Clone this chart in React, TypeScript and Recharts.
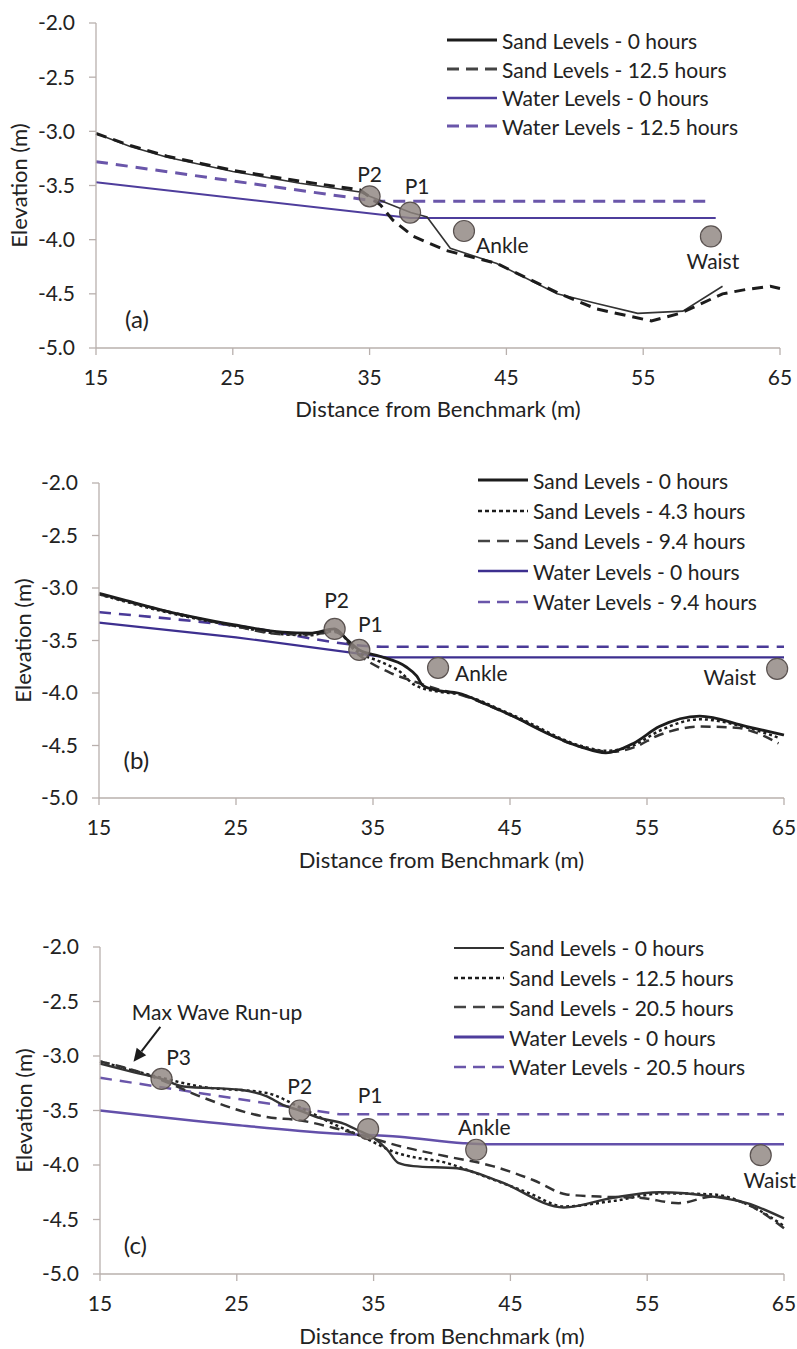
import React from "react"
import {
	ComposedChart,
	Line,
	Scatter,
	XAxis,
	YAxis,
	Legend,
	Label,
	ReferenceDot,
	ReferenceLine,
} from "recharts"

type Pt = [number, number]
type Marker = [string, number, number]

// ---- data ----
const xTicks = [15, 25, 35, 45, 55, 65]
const yTicks = [-5.0, -4.5, -4.0, -3.5, -3.0, -2.5, -2.0]

// (a)
const aSand0: Pt[] = [[15, -3.02], [17.5, -3.14], [20.2, -3.24], [25, -3.37], [29.9, -3.48], [34.3, -3.56], [35, -3.6], [38, -3.75], [39.2, -3.79], [40.9, -4.08], [44.3, -4.22], [48.7, -4.5], [51.6, -4.59], [54.6, -4.68], [57.9, -4.66], [60.8, -4.43]]
const aSand125: Pt[] = [[15, -3.02], [17.5, -3.13], [20.2, -3.23], [25, -3.36], [29.9, -3.46], [34.3, -3.54], [35.8, -3.68], [36.7, -3.82], [38.2, -3.97], [40.6, -4.1], [44.3, -4.22], [48.9, -4.5], [51.6, -4.64], [55.6, -4.75], [57.7, -4.68], [60.8, -4.5], [62.5, -4.46], [64.3, -4.43], [65, -4.45]]
const aWater0: Pt[] = [[15, -3.47], [38, -3.8], [60.3, -3.8]]
const aWater125: Pt[] = [[15, -3.28], [35.5, -3.645], [60, -3.645]]
const aMarkers: Marker[] = [["P2", 35.0, -3.6], ["P1", 37.96, -3.75], ["Ankle", 41.9, -3.92], ["Waist", 59.95, -3.97]]

// (b)
const bSand0: Pt[] = [[15, -3.05], [17, -3.12], [19.9, -3.22], [22, -3.28], [24.8, -3.35], [28.4, -3.42], [30.4, -3.43], [32.2, -3.39], [33.1, -3.49], [34, -3.59], [35.5, -3.65], [37.4, -3.75], [38.2, -3.84], [38.65, -3.93], [39.9, -3.98], [41.2, -4.0], [43.3, -4.11], [45.2, -4.22], [47.65, -4.38], [50.1, -4.51], [52, -4.57], [54, -4.48], [55.9, -4.32], [58.85, -4.22], [62.3, -4.32], [65, -4.4]]
const bSand43: Pt[] = [[15, -3.06], [19.9, -3.23], [24.8, -3.36], [28.4, -3.44], [30.4, -3.45], [32.2, -3.41], [34, -3.62], [35.5, -3.7], [37, -3.8], [38, -3.92], [39.9, -3.99], [41.2, -4.01], [45.2, -4.21], [50.1, -4.5], [52, -4.55], [54, -4.5], [55.9, -4.36], [58.85, -4.25], [62.3, -4.33], [64.7, -4.43]]
const bSand94: Pt[] = [[15, -3.06], [19.9, -3.22], [24.8, -3.36], [28.4, -3.44], [30.4, -3.44], [32.2, -3.42], [34, -3.64], [36.3, -3.81], [38, -3.89], [39.9, -3.97], [41.2, -4.01], [45.2, -4.22], [50.1, -4.51], [52.5, -4.56], [54, -4.52], [55.9, -4.4], [58.85, -4.32], [61.5, -4.33], [63, -4.38], [64.6, -4.48]]
const bWater0: Pt[] = [[15, -3.33], [25, -3.47], [36, -3.66], [65, -3.66]]
const bWater94: Pt[] = [[15, -3.23], [25, -3.36], [36, -3.56], [65, -3.56]]
const bMarkers: Marker[] = [["P2", 32.2, -3.39], ["P1", 34.0, -3.59], ["Ankle", 39.75, -3.76], ["Waist", 64.5, -3.77]]

// (c)
const cSand0: Pt[] = [[15, -3.07], [17.5, -3.15], [19.5, -3.21], [21.1, -3.28], [25.25, -3.31], [27.2, -3.37], [28.4, -3.45], [29.6, -3.5], [31.1, -3.57], [32.8, -3.62], [34, -3.69], [35, -3.75], [36, -3.86], [36.8, -3.98], [37.9, -4.01], [41.1, -4.03], [44.2, -4.15], [48.9, -4.39], [52.5, -4.3], [55.9, -4.25], [59.8, -4.29], [62.3, -4.35], [65, -4.49]]
const cSand125: Pt[] = [[15, -3.05], [19.5, -3.2], [22.3, -3.28], [27.2, -3.34], [29.6, -3.47], [32, -3.62], [34.5, -3.76], [36.7, -3.89], [37.6, -3.92], [40.3, -3.98], [42.8, -4.09], [46.4, -4.26], [48.9, -4.38], [52.5, -4.33], [56.2, -4.26], [59.8, -4.27], [62.3, -4.36], [65, -4.56]]
const cSand205: Pt[] = [[15, -3.05], [17.45, -3.13], [19.5, -3.22], [22.3, -3.37], [27.2, -3.56], [29.6, -3.59], [32.1, -3.66], [34.5, -3.74], [36.7, -3.82], [40.3, -3.92], [43.7, -4.01], [46.7, -4.14], [49.1, -4.27], [51.5, -4.29], [54.4, -4.3], [57.3, -4.35], [59.8, -4.29], [62.3, -4.36], [65, -4.58]]
const cWater0: Pt[] = [[15, -3.5], [24.75, -3.63], [32.1, -3.71], [36.9, -3.74], [41.55, -3.8], [43.5, -3.81], [65, -3.81]]
const cWater205: Pt[] = [[15, -3.2], [29.6, -3.48], [32.5, -3.535], [65, -3.535]]
const cMarkers: Marker[] = [["P3", 19.5, -3.21], ["P2", 29.6, -3.5], ["P1", 34.6, -3.67], ["Ankle", 42.5, -3.86], ["Waist", 63.3, -3.91]]

// ---- styles ----
const FONT = "Lato, 'Open Sans', sans-serif"
const TEXT = "#222"
const AXIS = "#b8b0ad"
const BLACK = "#1c1c1c"
const GREY = "#333"
const PURPLE = "#4e3d9c"
const PURPLE_D = "#6a56aa"
const FS = 21

type SeriesStyle = { name: string; pts: Pt[]; stroke: string; width: number; dash?: string; curve: "linear" | "monotone" }
type LabelPos = Record<string, [number, number, "start" | "middle" | "end"]>

type PanelConfig = {
	tag: string
	top: number
	height: number
	margin: { top: number; right: number; bottom: number; left: number }
	yLabelOffset: number
	xLabelOffset: number
	series: SeriesStyle[]
	legend: SeriesStyle[]
	legendPos: { left: number; top: number; row: number }
	markers: Marker[]
	labelPos: LabelPos
	tagAt: Pt
	extra?: boolean
}

const toRows = (pts: Pt[]) => pts.map(([x, y]) => ({ x, y }))

const panels: PanelConfig[] = [
	{
		tag: "(a)",
		top: 0,
		height: 440,
		margin: { top: 23, right: 17, bottom: 17, left: 10 },
		yLabelOffset: 9,
		xLabelOffset: 6,
		series: [
			{ name: "Water Levels - 0 hours", pts: aWater0, stroke: PURPLE, width: 2, curve: "linear" },
			{ name: "Water Levels - 12.5 hours", pts: aWater125, stroke: PURPLE_D, width: 3, dash: "12 8", curve: "linear" },
			{ name: "Sand Levels - 0 hours", pts: aSand0, stroke: GREY, width: 1.6, curve: "linear" },
			{ name: "Sand Levels - 12.5 hours", pts: aSand125, stroke: BLACK, width: 3, dash: "11 7", curve: "linear" },
		],
		legend: [
			{ name: "Sand Levels - 0 hours", pts: [], stroke: BLACK, width: 3, curve: "linear" },
			{ name: "Sand Levels - 12.5 hours", pts: [], stroke: "#444", width: 3, dash: "12 7", curve: "linear" },
			{ name: "Water Levels - 0 hours", pts: [], stroke: PURPLE, width: 2.5, curve: "linear" },
			{ name: "Water Levels - 12.5 hours", pts: [], stroke: PURPLE_D, width: 3, dash: "12 7", curve: "linear" },
		],
		legendPos: { left: 447, top: 26, row: 28.7 },
		markers: aMarkers,
		labelPos: { P2: [0, -23, "middle"], P1: [7, -27, "middle"], Ankle: [12, 13, "start"], Waist: [2, 24, "middle"] },
		tagAt: [18.0, -4.73],
	},
	{
		tag: "(b)",
		top: 440,
		height: 450,
		margin: { top: 43, right: 13, bottom: 17, left: 13 },
		yLabelOffset: 10,
		xLabelOffset: 5,
		series: [
			{ name: "Water Levels - 0 hours", pts: bWater0, stroke: "#3d2f8f", width: 2.2, curve: "linear" },
			{ name: "Water Levels - 9.4 hours", pts: bWater94, stroke: "#4a3a98", width: 2.6, dash: "12 8", curve: "monotone" },
			{ name: "Sand Levels - 4.3 hours", pts: bSand43, stroke: BLACK, width: 2.5, dash: "3 3", curve: "monotone" },
			{ name: "Sand Levels - 9.4 hours", pts: bSand94, stroke: GREY, width: 2.5, dash: "10 6", curve: "monotone" },
			{ name: "Sand Levels - 0 hours", pts: bSand0, stroke: BLACK, width: 2.8, curve: "monotone" },
		],
		legend: [
			{ name: "Sand Levels - 0 hours", pts: [], stroke: BLACK, width: 3, curve: "linear" },
			{ name: "Sand Levels - 4.3 hours", pts: [], stroke: BLACK, width: 2.5, dash: "4 3", curve: "linear" },
			{ name: "Sand Levels - 9.4 hours", pts: [], stroke: "#444", width: 2.5, dash: "12 7", curve: "linear" },
			{ name: "Water Levels - 0 hours", pts: [], stroke: "#3d2f8f", width: 2.5, curve: "linear" },
			{ name: "Water Levels - 9.4 hours", pts: [], stroke: PURPLE_D, width: 2.5, dash: "12 7", curve: "linear" },
		],
		legendPos: { left: 478, top: 25, row: 30.4 },
		markers: bMarkers,
		labelPos: { P2: [2, -29, "middle"], P1: [11, -26, "middle"], Ankle: [17, 5, "start"], Waist: [-21, 8, "end"] },
		tagAt: [17.73, -4.635],
	},
	{
		tag: "(c)",
		top: 890,
		height: 459,
		margin: { top: 57, right: 13, bottom: 0, left: 14 },
		yLabelOffset: 10,
		xLabelOffset: 5,
		series: [
			{ name: "Water Levels - 0 hours", pts: cWater0, stroke: "#6350aa", width: 2.5, curve: "monotone" },
			{ name: "Water Levels - 20.5 hours", pts: cWater205, stroke: PURPLE_D, width: 2.5, dash: "12 8", curve: "linear" },
			{ name: "Sand Levels - 12.5 hours", pts: cSand125, stroke: BLACK, width: 2.5, dash: "3 3", curve: "monotone" },
			{ name: "Sand Levels - 20.5 hours", pts: cSand205, stroke: GREY, width: 2.5, dash: "10 6", curve: "monotone" },
			{ name: "Sand Levels - 0 hours", pts: cSand0, stroke: GREY, width: 2.4, curve: "monotone" },
		],
		legend: [
			{ name: "Sand Levels - 0 hours", pts: [], stroke: GREY, width: 2, curve: "linear" },
			{ name: "Sand Levels - 12.5 hours", pts: [], stroke: BLACK, width: 2.5, dash: "4 3", curve: "linear" },
			{ name: "Sand Levels - 20.5 hours", pts: [], stroke: "#444", width: 2.5, dash: "12 7", curve: "linear" },
			{ name: "Water Levels - 0 hours", pts: [], stroke: PURPLE, width: 3, curve: "linear" },
			{ name: "Water Levels - 20.5 hours", pts: [], stroke: PURPLE_D, width: 2.5, dash: "12 7", curve: "linear" },
		],
		legendPos: { left: 454, top: 43, row: 29.75 },
		markers: cMarkers,
		labelPos: { P3: [17, -22, "middle"], P2: [0, -25, "middle"], P1: [2, -35, "middle"], Ankle: [8, -23, "middle"], Waist: [9, 24, "middle"] },
		tagAt: [17.58, -4.73],
		extra: true,
	},
]

function LegendBox({ items, row }: { items: SeriesStyle[]; row: number }) {
	return (
		<div style={{ fontFamily: FONT }}>
			{items.map((it) => (
				<div key={it.name} style={{ display: "flex", alignItems: "center", height: row }}>
					<svg width={50} height={12}>
						<line x1={0} x2={50} y1={6} y2={6} stroke={it.stroke} strokeWidth={it.width} strokeDasharray={it.dash} />
					</svg>
					<span style={{ marginLeft: 5, fontSize: FS, color: TEXT, lineHeight: 1, whiteSpace: "nowrap" }}>{it.name}</span>
				</div>
			))}
		</div>
	)
}

// plain centred text for annotations placed with ReferenceDot
const centerText = (value: string, size: number) => (props: any) => {
	const vb = props.viewBox || {}
	const cx = (vb.x ?? 0) + (vb.width ?? 0) / 2
	const cy = (vb.y ?? 0) + (vb.height ?? 0) / 2
	return (
		<text x={cx} y={cy} textAnchor="middle" dominantBaseline="central" fontSize={size} fill={TEXT} fontFamily={FONT}>
			{value}
		</text>
	)
}

function Arrow(props: any) {
	const { x1, y1, x2, y2 } = props
	const ang = Math.atan2(y2 - y1, x2 - x1)
	const L = 13
	const W = 6
	const bx = x2 - L * Math.cos(ang)
	const by = y2 - L * Math.sin(ang)
	const px = -Math.sin(ang) * W
	const py = Math.cos(ang) * W
	return (
		<g>
			<line x1={x1} y1={y1} x2={bx} y2={by} stroke={BLACK} strokeWidth={2} />
			<polygon points={`${x2},${y2} ${bx + px},${by + py} ${bx - px},${by - py}`} fill={BLACK} />
		</g>
	)
}

function Panel({ cfg }: { cfg: PanelConfig }) {
	const markerRows = cfg.markers.map(([name, x, y]) => ({ name, x, y }))
	const shape = (p: any) => {
		const pos = cfg.labelPos[p.payload.name] || [0, -24, "middle"]
		return (
			<g>
				<circle cx={p.cx} cy={p.cy} r={10.5} fill="#8f8580" fillOpacity={0.82} stroke="#5a5250" strokeWidth={1.2} />
				<text
					x={p.cx + pos[0]}
					y={p.cy + pos[1]}
					textAnchor={pos[2]}
					dominantBaseline="central"
					fontSize={FS}
					fill={TEXT}
					fontFamily={FONT}
				>
					{p.payload.name}
				</text>
			</g>
		)
	}
	return (
		<div style={{ position: "absolute", left: 0, top: cfg.top, width: 797, height: cfg.height }}>
			<ComposedChart width={797} height={cfg.height} margin={cfg.margin} style={{ overflow: "visible" }}>
				<XAxis
					type="number"
					dataKey="x"
					domain={[15, 65]}
					ticks={xTicks}
					height={75}
					stroke={AXIS}
					strokeWidth={1.3}
					tickSize={7}
					tickMargin={15}
					tick={{ fontSize: FS, fill: TEXT, fontFamily: FONT }}
				>
					<Label
						value="Distance from Benchmark (m)"
						position="insideBottom"
						offset={cfg.xLabelOffset}
						style={{ fontSize: 22, fill: TEXT, fontFamily: FONT }}
					/>
				</XAxis>
				<YAxis
					type="number"
					dataKey="y"
					domain={[-5, -2]}
					ticks={yTicks}
					width={86}
					stroke={AXIS}
					strokeWidth={1.3}
					tickSize={7}
					tickMargin={14}
					tickFormatter={(v: number) => v.toFixed(1)}
					tick={{ fontSize: FS, fill: TEXT, fontFamily: FONT }}
				>
					<Label
						value="Elevation (m)"
						angle={-90}
						position="insideLeft"
						offset={cfg.yLabelOffset}
						style={{ fontSize: 22, fill: TEXT, fontFamily: FONT, textAnchor: "middle" }}
					/>
				</YAxis>
				<Legend
					layout="vertical"
					align="center"
					verticalAlign="middle"
					wrapperStyle={{ left: cfg.legendPos.left, top: cfg.legendPos.top, width: 340 }}
					content={() => <LegendBox items={cfg.legend} row={cfg.legendPos.row} />}
				/>
				{cfg.series.map((s) => (
					<Line
						key={s.name}
						data={toRows(s.pts)}
						dataKey="y"
						name={s.name}
						type={s.curve}
						stroke={s.stroke}
						strokeWidth={s.width}
						strokeDasharray={s.dash}
						dot={false}
						activeDot={false}
						legendType="none"
						isAnimationActive={false}
					/>
				))}
				<Scatter data={markerRows} dataKey="y" shape={shape} legendType="none" isAnimationActive={false} />
				<ReferenceDot x={cfg.tagAt[0]} y={cfg.tagAt[1]} r={0} fill="none" stroke="none" label={centerText(cfg.tag, 24)} />
				{cfg.extra && (
					<ReferenceDot x={23.55} y={-2.595} r={0} fill="none" stroke="none" label={centerText("Max Wave Run-up", FS)} />
				)}
				{cfg.extra && (
					<ReferenceLine
						segment={[
							{ x: 19.41, y: -2.733 },
							{ x: 17.45, y: -3.053 },
						]}
						shape={Arrow}
					/>
				)}
			</ComposedChart>
		</div>
	)
}

export default function App() {
	return (
		<div style={{ position: "absolute", left: 0, top: 0, width: 797, height: 1349, background: "#fff", fontFamily: FONT }}>
			{panels.map((p) => (
				<Panel key={p.tag} cfg={p} />
			))}
		</div>
	)
}
